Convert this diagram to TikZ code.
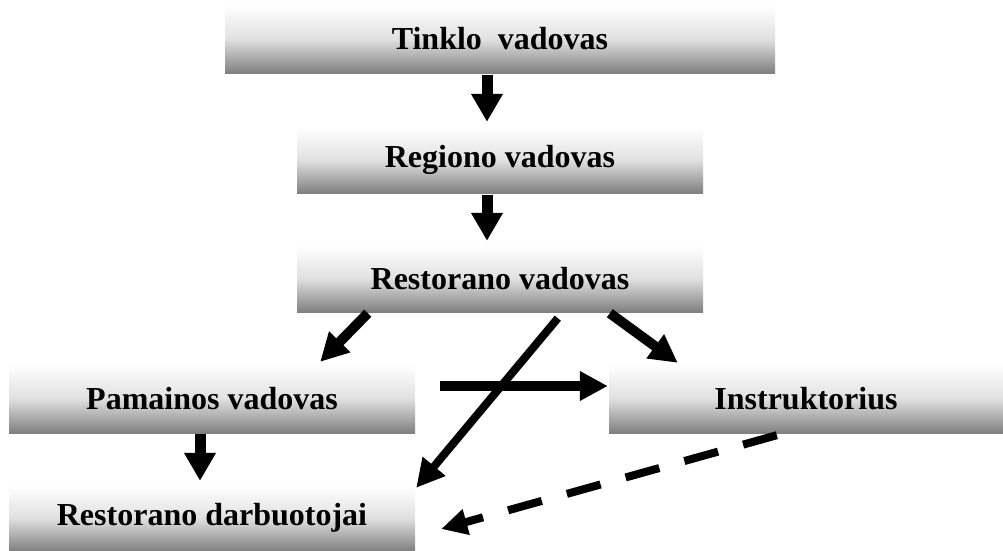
\documentclass[tikz,border=0pt]{standalone}
\usepackage{fontspec}
\setmainfont{Liberation Serif}
\usetikzlibrary{arrows.meta,calc}

\tikzset{
  box/.style={rectangle, inner sep=0pt, top color=white, bottom color=black!50,
    middle color=black!12, font=\bfseries\fontsize{32}{38}\selectfont},
  thick arrow/.style={line width=11pt, -{Triangle[width=30pt,length=28pt]}},
  slim arrow/.style={line width=8pt, -{Triangle[width=28pt,length=28pt]}},
  dashed arrow/.style={line width=8pt, dash pattern=on 35pt off 26pt,
    -{Triangle[width=25pt,length=26pt]}},
}

\begin{document}
\begin{tikzpicture}[x=1pt, y=-1pt]
  \useasboundingbox (0,0) rectangle (1003,550);

  % boxes of the chain of command
  \node[box, minimum width=550pt, minimum height=68pt] (tv) at (500,39) {Tinklo\ \ vadovas};
  \node[box, minimum width=406pt, minimum height=66pt] (rg) at (500,160) {Regiono vadovas};
  \node[box, minimum width=406pt, minimum height=67pt] (rv) at (500,278.5) {Restorano vadovas};
  \node[box, minimum width=406pt, minimum height=69pt] (pv) at (212,398.5) {Pamainos vadovas};
  \node[box, minimum width=394pt, minimum height=69pt] (in) at (806,398.5) {Instruktorius};
  \node[box, minimum width=406pt, minimum height=66pt] (rd) at (212,518) {Restorano darbuotojai};

  % vertical links
  \draw[thick arrow] ($(tv.south)+(-13,2)$) -- ($(rg.north)+(-13,-5)$);
  \draw[thick arrow] ($(rg.south)+(-13,2)$) -- ($(rv.north)+(-13,-4)$);
  \draw[thick arrow] ($(pv.south)+(-12,1)$) -- ($(rd.north)+(-12,-4)$);

  % links leaving the restaurant manager
  \draw[slim arrow, line width=10pt] ($(rv.south west)+(71,1)$) -- ($(pv.north east)+(-95,-2)$);
  \draw[slim arrow] ($(rv.south west)+(261,6)$) -- ($(rd.north east)+(1,3)$);
  \draw[slim arrow, line width=10pt] ($(rv.south west)+(313,1)$) -- ($(in.north west)+(69,-1)$);

  % shift manager to instructor
  \draw[slim arrow, line width=10pt] ($(pv.east)+(25,-12.5)$) -- ($(in.west)+(-1,-12.5)$);

  % instructor to staff
  \draw[dashed arrow] ($(in.south west)+(168,2)$) -- ($(rd.east)+(26,11)$);
\end{tikzpicture}
\end{document}
